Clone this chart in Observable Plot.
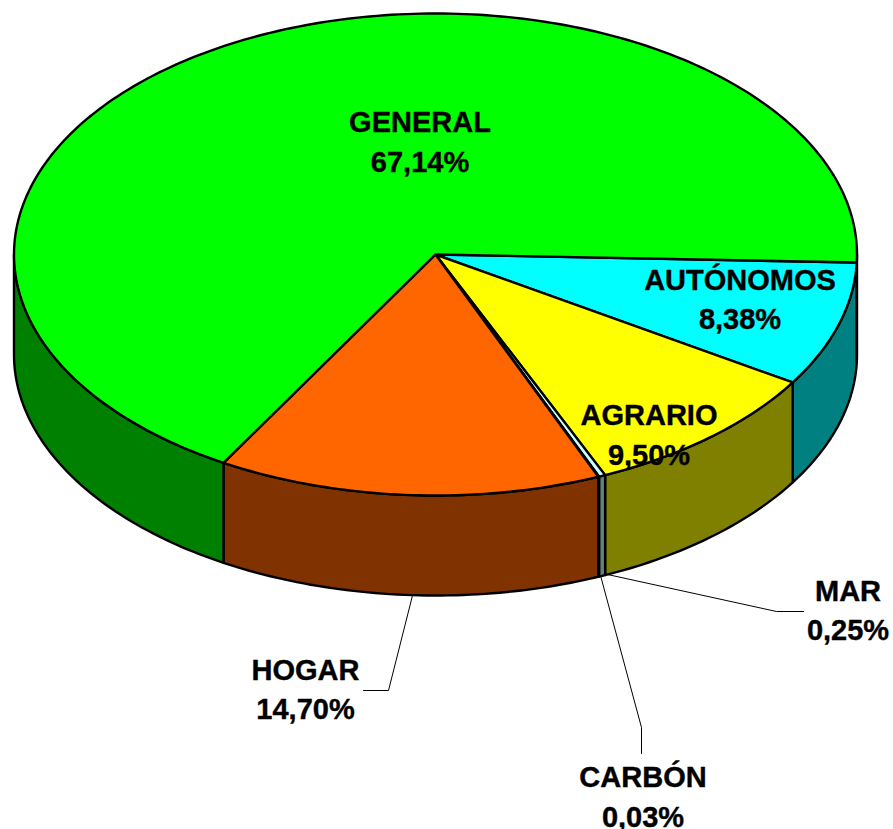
<!DOCTYPE html>
<html>
<head>
<meta charset="utf-8">
<script src="https://cdn.jsdelivr.net/npm/d3@7"></script>
<script src="https://cdn.jsdelivr.net/npm/@observablehq/plot@0.6"></script>
<style>html,body{margin:0;padding:0;background:#fff}svg{display:block}</style>
</head>
<body>
<div id="chart"></div>
<script>
// Data, clockwise from the right-hand edge of the pie
const categories = ["AUTÓNOMOS", "AGRARIO", "MAR", "CARBÓN", "HOGAR", "GENERAL"];
const shares = [8.38, 9.50, 0.25, 0.03, 14.70, 67.14];
const shareLabels = ["8,38%", "9,50%", "0,25%", "0,03%", "14,70%", "67,14%"];

// Styles
const topColors = ["#00ffff", "#ffff00", "#ccffff", "#c0c0c0", "#ff6600", "#00ff00"];
const sideColors = ["#008080", "#808000", "#668080", "#606060", "#803300", "#008000"];

// Layout of the tilted pie, in page pixels
const pie = {cx: 435, cy: 254, rx: 421.5, ry: 241, depth: 100, startDeg: 1.9};
const labelAt = {
  "AUTÓNOMOS": [739.5, 296.5], "AGRARIO": [648.5, 432], "MAR": [847.5, 607.5],
  "CARBÓN": [642.5, 794], "HOGAR": [305, 686.5], "GENERAL": [419.5, 139]
};
const leaders = {
  "MAR": [[607, 574], [776, 611], [803, 611]],
  "CARBÓN": [[600, 575], [641, 727], [641, 753]],
  "HOGAR": [[412, 595], [388, 690], [363, 690]]
};

const rad = d => d * Math.PI / 180;
const rim = (deg, dy = 0) => ({
  x: pie.cx + pie.rx * Math.cos(rad(deg)),
  y: pie.cy + pie.ry * Math.sin(rad(deg)) + dy
});
function arc(a, b, dy = 0) {
  const pts = [];
  const n = Math.max(1, Math.ceil(Math.abs(b - a) / 1));
  for (let i = 0; i <= n; i++) pts.push(rim(a + (b - a) * i / n, dy));
  return pts;
}

// Turn the shares into angular extents
let cursor = pie.startDeg;
const slices = categories.map((name, i) => {
  const a0 = cursor;
  const a1 = cursor + shares[i] * 3.6;
  cursor = a1;
  return {name, a0, a1, top: topColors[i], side: sideColors[i], label: shareLabels[i]};
});

const marks = [];
const poly = (pts, fill) => Plot.line([...pts, pts[0]], {
  x: "x", y: "y", fill, stroke: "black", strokeWidth: 2.4, strokeLinejoin: "round"
});

// The rim wall: only the front half of the pie (0..180 deg) is visible
for (const s of slices) {
  const ranges = [[Math.max(s.a0, 0), Math.min(s.a1, 180)], [Math.max(s.a0, 360) - 360, Math.min(s.a1, 540) - 360]];
  for (const [a, b] of ranges) {
    if (b <= a) continue;
    marks.push(poly([...arc(a, b), ...arc(b, a, pie.depth)], s.side));
  }
}
// The top faces
for (const s of slices) {
  marks.push(poly([{x: pie.cx, y: pie.cy}, ...arc(s.a0, s.a1)], s.top));
}
// Leader lines
for (const pts of Object.values(leaders)) {
  marks.push(Plot.line(pts, {x: d => d[0], y: d => d[1], stroke: "black", strokeWidth: 1}));
}
// Labels
marks.push(Plot.text(slices, {
  x: d => labelAt[d.name][0],
  y: d => labelAt[d.name][1],
  text: d => d.name + "\n" + d.label,
  fontFamily: "Liberation Sans",
  fontWeight: "bold",
  fontSize: 29,
  lineHeight: 1.36,
  fill: "black",
  stroke: "black",
  strokeWidth: 0.4,
  textAnchor: "middle"
}));

const chart = Plot.plot({
  width: 893,
  height: 829,
  margin: 0,
  x: {domain: [0, 893], range: [0, 893], axis: null},
  y: {domain: [0, 829], range: [0, 829], axis: null},
  style: {background: "#fff"},
  marks
});
document.getElementById("chart").append(chart);
</script>
</body>
</html>
